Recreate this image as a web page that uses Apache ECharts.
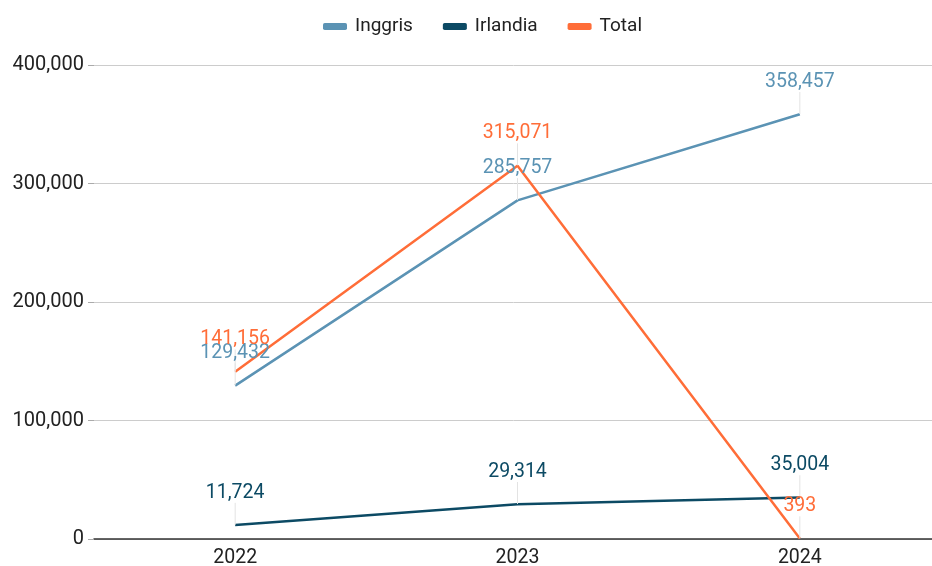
<!DOCTYPE html>
<html lang="id">
  <head>
    <meta charset="UTF-8" />
    <title>Inggris, Irlandia, Total</title>
    <script src="https://cdn.jsdelivr.net/npm/echarts@6/dist/echarts.min.js"></script>
  </head>
  <body style="margin: 0">
    <div id="main" style="height: 566px; width: 932px"></div>
  </body>
</html>
<script>
  const years = ['2022', '2023', '2024']
  const inggris = [129432, 285757, 358457]
  const irlandia = [11724, 29314, 35004]
  const total = [141156, 315071, 393]

  const chartInstance = echarts.init(document.getElementById('main'))

  const fmt = (v) => v.toLocaleString('en-US')

  function makeSeries(name, data, color) {
    return {
      name: name,
      type: 'line',
      data: data,
      symbol: 'circle',
      symbolSize: 0.5,
      showSymbol: true,
      lineStyle: { width: 2.5, color: color },
      itemStyle: { color: color },
      label: {
        show: true,
        position: 'top',
        distance: 2,
        color: color,
        fontSize: 19.5,
        fontFamily: 'Roboto',
        formatter: (p) => fmt(p.value)
      },
      labelLayout: { dy: -20 },
      labelLine: {
        show: true,
        lineStyle: { color: '#e3e3e3', width: 1 }
      },
      emphasis: { disabled: true }
    }
  }

  const option = {
    animation: false,
    textStyle: { fontFamily: 'Roboto' },
    legend: {
      top: 12,
      left: 318,
      itemWidth: 24,
      itemHeight: 7,
      itemGap: 30,
      icon: 'roundRect',
      textStyle: { fontSize: 19, color: '#222', fontFamily: 'Roboto', padding: [0, 0, 0, 3] },
      data: ['Inggris', 'Irlandia', 'Total']
    },
    grid: {
      left: 94,
      top: 65,
      width: 847,
      height: 474,
      outerBoundsMode: 'none',
      containLabel: false
    },
    xAxis: {
      type: 'category',
      data: years,
      boundaryGap: true,
      axisLine: { lineStyle: { color: '#333', width: 1.5 } },
      axisTick: { show: false },
      axisLabel: { fontSize: 19.5, color: '#222', margin: 9 }
    },
    yAxis: {
      type: 'value',
      min: 0,
      max: 400000,
      interval: 100000,
      axisLine: { show: false },
      axisTick: { show: true, length: 6, lineStyle: { color: '#aaa' } },
      splitLine: { lineStyle: { color: '#ccc', width: 1 } },
      axisLabel: {
        fontSize: 20,
        color: '#222',
        margin: 10,
        formatter: (v) => fmt(v)
      }
    },
    series: [
      makeSeries('Inggris', inggris, '#5b93b4'),
      makeSeries('Irlandia', irlandia, '#0c4a64'),
      makeSeries('Total', total, '#ff6d38')
    ]
  }

  chartInstance.setOption(option)

  window.addEventListener('resize', () => {
    chartInstance.resize()
  })
</script>
